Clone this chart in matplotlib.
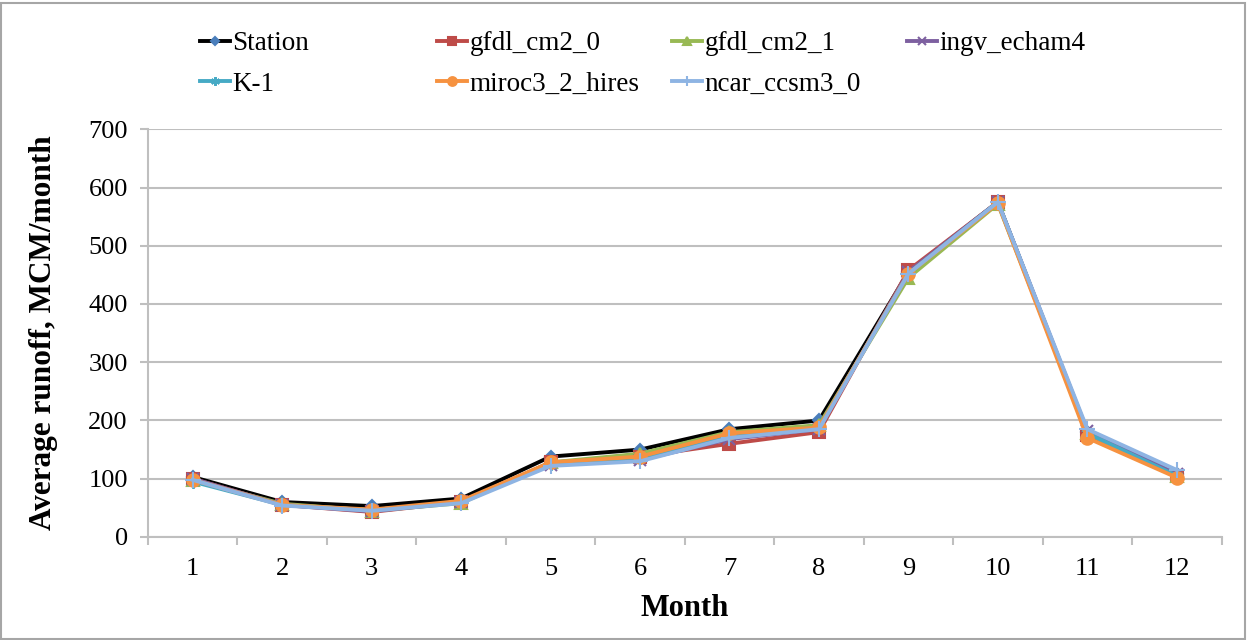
import matplotlib.pyplot as plt
from matplotlib.patches import Rectangle
from matplotlib.ticker import FixedLocator, NullFormatter

plt.rcParams['font.family'] = ['Liberation Serif', 'DejaVu Serif']

months = list(range(1, 13))
station = [103, 60, 53, 66, 138, 150, 185, 200, 455, 575, 180, 108]
gfdl_cm2_0 = [100, 55, 43, 60, 128, 138, 160, 180, 458, 575, 175, 105]
gfdl_cm2_1 = [97, 57, 45, 58, 128, 143, 180, 192, 445, 572, 178, 105]
ingv_echam4 = [100, 55, 44, 60, 124, 132, 168, 185, 455, 575, 182, 108]
k_1 = [95, 55, 46, 60, 125, 135, 175, 188, 452, 575, 178, 105]
miroc3_2_hires = [98, 55, 47, 62, 128, 138, 178, 188, 452, 573, 170, 102]
ncar_ccsm3_0 = [98, 54, 45, 58, 122, 130, 170, 185, 452, 575, 185, 115]

fig = plt.figure(figsize=(12.49, 6.40), dpi=100)
ax = fig.add_axes([0.1185, 0.161, 0.8595, 0.637])

# series: (label, values, line colour, marker, marker colour, marker size)
series = [
    ("Station", station, "black", "D", "#4A7EBB", 6),
    ("gfdl_cm2_0", gfdl_cm2_0, "#BE4B48", "s", "#BE4B48", 8),
    ("gfdl_cm2_1", gfdl_cm2_1, "#98B954", "^", "#98B954", 9),
    ("ingv_echam4", ingv_echam4, "#7D60A0", "x", "#7D60A0", 8),
    ("K-1", k_1, "#46AAC5", (6, 2, 0), "#46AAC5", 9),
    ("miroc3_2_hires", miroc3_2_hires, "#F69240", "o", "#F69240", 9),
    ("ncar_ccsm3_0", ncar_ccsm3_0, "#8EB4E3", "+", "#8EB4E3", 11),
]

handles = {}
for label, vals, lc, mk, mc, ms in series:
    ln, = ax.plot(months, vals, color=lc, lw=2.8, marker=mk, markersize=ms,
                  markerfacecolor=mc, markeredgecolor=mc, markeredgewidth=1.5,
                  label=label)
    handles[label] = ln

ax.set_xlim(0.5, 12.5)
ax.set_ylim(0, 700)
ax.set_yticks(range(0, 701, 100))
ax.set_xticks(months)
ax.xaxis.set_major_formatter(plt.FixedFormatter([str(m) for m in months]))
ax.tick_params(axis='x', which='major', length=0, labelsize=19, pad=15)
ax.xaxis.set_minor_locator(FixedLocator([m + 0.5 for m in range(0, 13)]))
ax.xaxis.set_minor_formatter(NullFormatter())
ax.tick_params(axis='x', which='minor', length=5.5, color='#BFBFBF', width=1.5)
ax.tick_params(axis='y', length=5.5, color='#BFBFBF', width=1.5, labelsize=19, pad=9)
ax.grid(axis='y', color='#BFBFBF', lw=1.5)
ax.set_axisbelow(True)
for s in ['top', 'right']:
    ax.spines[s].set_visible(False)
for s in ['left', 'bottom']:
    ax.spines[s].set_color('#BFBFBF')
    ax.spines[s].set_linewidth(1.5)

ax.set_xlabel("Month", fontsize=22, fontweight='bold')
ax.xaxis.set_label_coords(0.5, -0.14)
ax.set_ylabel("Average runoff, MCM/month", fontsize=22.5, fontweight='bold')
ax.yaxis.set_label_coords(-0.084, 0.5)

# legend: one block per column, Excel style
columns = [["Station", "K-1"], ["gfdl_cm2_0", "miroc3_2_hires"],
           ["gfdl_cm2_1", "ncar_ccsm3_0"], ["ingv_echam4"]]
col_x = [200, 437, 672, 907]
for names, x in zip(columns, col_x):
    fig.legend([handles[k] for k in names], names, loc='upper left',
               bbox_to_anchor=(x / 1249, 1 - 31 / 640), frameon=False,
               fontsize=19.5, handlelength=1.1, handletextpad=0.1,
               labelspacing=0.58, borderpad=0, borderaxespad=0,
               markerscale=0.7)

fig.add_artist(Rectangle((0.001, 0.002), 0.996, 0.994, transform=fig.transFigure,
                         fill=False, edgecolor='#A6A6A6', lw=1.5))

plt.savefig('out.png', dpi=100)
